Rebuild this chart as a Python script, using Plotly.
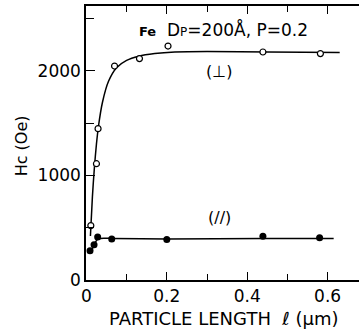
import plotly.graph_objects as go

# Data
perp_x = [0.011, 0.025, 0.029, 0.070, 0.132, 0.203, 0.439, 0.582]
perp_y = [520, 1112, 1447, 2046, 2117, 2237, 2180, 2165]
perp_fit_x = [0.010, 0.015, 0.020, 0.025, 0.030, 0.040, 0.055, 0.075, 0.10, 0.13, 0.17, 0.22, 0.30, 0.45, 0.63]
perp_fit_y = [420, 800, 1080, 1300, 1470, 1700, 1900, 2030, 2100, 2140, 2165, 2180, 2185, 2180, 2175]

par_x = [0.009, 0.019, 0.028, 0.063, 0.200, 0.439, 0.580]
par_y = [280, 338, 410, 392, 388, 419, 404]
par_fit_x = [0.008, 0.015, 0.022, 0.030, 0.045, 0.065, 0.20, 0.44, 0.615]
par_fit_y = [275, 300, 360, 395, 400, 397, 392, 398, 398]

FONT = "DejaVu Sans"

fig = go.Figure()
fig.add_trace(go.Scatter(x=perp_fit_x, y=perp_fit_y, mode="lines",
                         line=dict(color="black", width=1.5, shape="spline", smoothing=0.8),
                         showlegend=False, hoverinfo="skip"))
fig.add_trace(go.Scatter(x=par_fit_x, y=par_fit_y, mode="lines",
                         line=dict(color="black", width=1.5, shape="spline", smoothing=0.6),
                         showlegend=False, hoverinfo="skip"))
fig.add_trace(go.Scatter(x=perp_x, y=perp_y, mode="markers",
                         marker=dict(symbol="circle", size=6, color="white",
                                     line=dict(color="black", width=1.2)),
                         showlegend=False))
fig.add_trace(go.Scatter(x=par_x, y=par_y, mode="markers",
                         marker=dict(symbol="circle", size=7, color="black"),
                         showlegend=False))

fig.add_annotation(x=0.341, y=2400, xref="x", yref="y", showarrow=False,
                   xanchor="center", yanchor="middle",
                   text="<span style='font-size:13px'><b>Fe</b></span>  D<span style='font-size:12px'>P</span>=200Å, P=0.2",
                   font=dict(family=FONT, size=17, color="black"))
fig.add_annotation(x=0.33, y=1995, xref="x", yref="y", showarrow=False,
                   text="(⊥)", font=dict(family=FONT, size=16, color="black"))
fig.add_annotation(x=0.33, y=600, xref="x", yref="y", showarrow=False,
                   text="(//)", font=dict(family=FONT, size=16, color="black"))
# axis titles
fig.add_annotation(x=0.504, y=-0.14, xref="paper", yref="paper", showarrow=False,
                   xanchor="center", yanchor="middle",
                   text="PARTICLE LENGTH  ℓ (μm)", font=dict(family=FONT, size=18, color="black"))
fig.add_annotation(x=-0.236, y=0.49, xref="paper", yref="paper", showarrow=False,
                   xanchor="center", yanchor="middle", textangle=-90,
                   text="Hc (Oe)", font=dict(family=FONT, size=16, color="black"))

fig.update_layout(
    width=359, height=332,
    margin=dict(l=86, r=0, t=6, b=52, autoexpand=False),
    paper_bgcolor="white", plot_bgcolor="white",
    font=dict(family=FONT, size=17, color="black"),
    xaxis=dict(range=[-0.001, 0.678], showgrid=False, zeroline=False, automargin=False,
               showline=True, linecolor="black", linewidth=1.5, mirror="ticks",
               ticks="inside", ticklen=8, tickwidth=1.2, tickcolor="black",
               tickvals=[0, 0.2, 0.4, 0.6], ticktext=["0", "0.2", "0.4", "0.6"],
               minor=dict(tickvals=[0.1, 0.3, 0.5], ticks="inside", ticklen=6,
                          tickwidth=1.2, tickcolor="black")),
    yaxis=dict(range=[0, 2620], showgrid=False, zeroline=False, automargin=False,
               showline=True, linecolor="black", linewidth=1.5,
               ticks="inside", ticklen=9, tickwidth=1.2, tickcolor="black",
               tickvals=[0, 1000, 2000], ticktext=["0", "1000", "2000"],
               minor=dict(tickvals=[500, 1500, 2500], ticks="inside", ticklen=8,
                          tickwidth=1.2, tickcolor="black")),
)

fig.write_html("out.html", config={"displayModeBar": False},
               post_script="document.body.style.margin='0';document.body.style.overflow='hidden';")
